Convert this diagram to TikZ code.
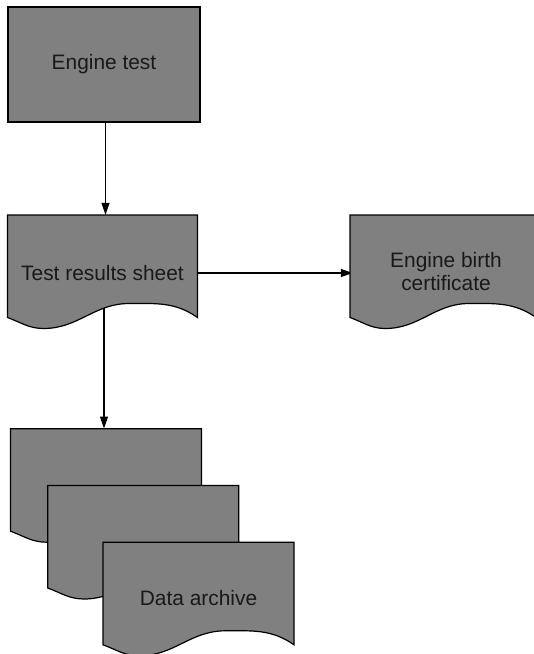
\documentclass[tikz,border=0pt]{standalone}
\usepackage{fontspec}
\setmainfont{Liberation Sans}
\usetikzlibrary{arrows.meta,backgrounds}
\definecolor{docgrey}{HTML}{808080}
\tikzset{
  shapefill/.style={fill=docgrey,draw=black,line width=1.2pt,line join=miter},
  txt/.style={inner sep=0pt,draw=none,fill=none,font=\fontsize{20.9}{23.5}\selectfont,align=center,text=black!90},
  conn/.style={draw=black,line width=1.2pt,-{Triangle[length=12pt,width=8pt]}}
}
% #1 = left, #2 = top (px, downward), #3 = width, #4 = height to left bottom
\newcommand{\mydocpath}[4]{%
  \filldraw[shapefill] (#1,-#2) -- (#1+#3,-#2) -- (#1+#3,-#2-#4)
    to[out=145,in=0] (#1+0.64*#3,-#2-#4+14)
    to[out=180,in=0] (#1+0.19*#3,-#2-#4-11)
    to[out=180,in=-20] (#1,-#2-#4) -- cycle;%
}
\begin{document}
\begin{tikzpicture}[x=1pt,y=1pt]
\useasboundingbox (0,0) rectangle (534,-654);
% Engine test
\node[txt,shapefill,minimum width=192pt,minimum height=115pt,font=\fontsize{20.9}{23.5}\selectfont] (eng) at (104,-64.5) {Engine test};
% Test results sheet
\mydocpath{7.5}{215}{190}{102.5}
\node[txt,minimum width=190pt,minimum height=116pt] (tr) at (102.5,-273) {Test results sheet};
% Engine birth certificate
\mydocpath{350}{215}{186}{102.5}
\node[txt,minimum width=186pt,minimum height=116pt] (bc) at (446,-271.5) {Engine birth\\certificate};
% Data archive stack
\mydocpath{10.5}{428.7}{191}{102.5}
\node[txt,minimum width=191pt,minimum height=116pt] (a1) at (106,-486.7) {};
\mydocpath{47.7}{485.5}{191}{102.5}
\node[txt,minimum width=191pt,minimum height=116pt] (a2) at (143.2,-543.5) {};
\mydocpath{103}{542.3}{191}{102.5}
\node[txt,minimum width=191pt,minimum height=116pt] (a3) at (198.5,-598) {Data archive};
\begin{pgfonlayer}{background}
\draw[conn] ([xshift=1.5pt]eng.south) -- ([xshift=1.5pt]eng.south |- tr.north);
\draw[conn] (tr.east) -- (tr.east -| bc.west);
\draw[conn] ([xshift=1.5pt]tr.center) -- ([xshift=1.5pt]tr.center |- a1.north);
\end{pgfonlayer}
\end{tikzpicture}
\end{document}
